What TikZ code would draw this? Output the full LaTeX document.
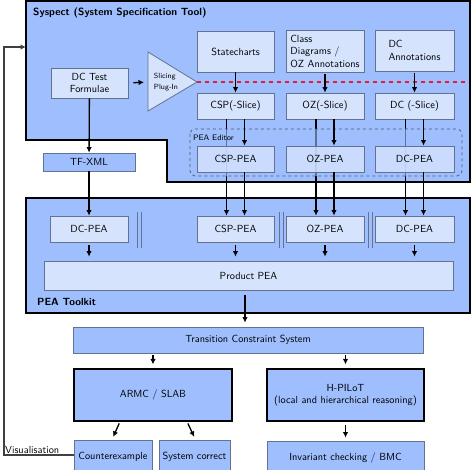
\documentclass[tikz,border=0pt]{standalone}
\usepackage{tikz}
\usetikzlibrary{arrows.meta}
\definecolor{outerblue}{RGB}{158,190,254}
\definecolor{innerblue}{RGB}{213,227,253}
\definecolor{edgeblue}{RGB}{100,114,145}
\definecolor{slicered}{RGB}{225,30,50}
\tikzset{
  inbox/.style={draw=edgeblue,fill=innerblue,line width=.8pt,align=center,inner sep=2pt},
  midbox/.style={draw=edgeblue,fill=outerblue,line width=.8pt,align=center,inner sep=2pt},
  bigbox/.style={draw=black,fill=outerblue,line width=1.2pt,align=center,inner sep=2pt},
  arr/.style={->,line width=1.3pt},
  title/.style={font=\sffamily\bfseries\fontsize{10.4}{12}\selectfont,anchor=west,inner sep=0pt}
}
\begin{document}
\begin{tikzpicture}[x=1pt,y=-1pt,>={Latex[length=5.5pt,width=5.5pt]},font=\sffamily\fontsize{10.3}{12.5}\selectfont]
\useasboundingbox (0,0) rectangle (474,469);
% the two tools
\draw[line width=1.3pt,fill=outerblue] (26,1) -- (470,1) -- (470,182) -- (167,182) -- (167,140) -- (26,140) -- cycle;
\node[title] (systitle) at (33,13) {Syspect (System Specification Tool)};
\draw[line width=1.3pt,fill=outerblue] (26,198) rectangle (470,313);
\node[title] (kittitle) at (37,302) {PEA Toolkit};
\coordinate (sysin) at (26,47);
% syspect
\node[inbox,minimum width=77pt,minimum height=30pt] (dctest) at (89.5,83) {DC Test\\Formulae};
\draw[draw=edgeblue,fill=innerblue,line width=.8pt] (148,52) -- (197,82) -- (148,111) -- cycle;
\node[font=\sffamily\fontsize{7.5}{11.5}\selectfont,align=left] (slicer) at (166,82) {Slicing\\Plug-In};
\coordinate (slicein) at (148,82);
\coordinate (sliceout) at (197,82);
\coordinate (sliceend) at (466,82);
\node[inbox,minimum width=77pt,minimum height=41pt] (statecharts) at (235.5,51.5) {Statecharts};
\node[inbox,minimum width=78pt,minimum height=42pt,align=left] (classdiag) at (325,51) {Class\\Diagrams /\\OZ Annotations};
\node[inbox,minimum width=79pt,minimum height=41pt,align=left] (dcann) at (414.5,50.5) {DC\\Annotations};
\node[inbox,minimum width=77pt,minimum height=26pt] (csp-slice) at (235.5,106) {CSP(-Slice)};
\node[inbox,minimum width=78pt,minimum height=26pt] (oz-slice) at (325,106) {OZ(-Slice)};
\node[inbox,minimum width=79pt,minimum height=26pt] (dc-slice) at (414.5,106) {DC (-Slice)};
\node[midbox,minimum width=92pt,minimum height=18pt] (tfxml) at (89,162) {TF-XML};
% pea toolkit
\node[inbox,minimum width=78pt,minimum height=26pt] (tf-kit) at (89,229) {DC-PEA};
\node[inbox,minimum width=77pt,minimum height=26pt] (csp-kit) at (235.5,229) {CSP-PEA};
\node[inbox,minimum width=78pt,minimum height=26pt] (oz-kit) at (325,229) {OZ-PEA};
\node[inbox,minimum width=79pt,minimum height=26pt] (dc-kit) at (414.5,229) {DC-PEA};
\foreach \x in {137,279,368}
  \draw[edgeblue,line width=.7pt] (\x,212) -- (\x,248) (\x+4,212) -- (\x+4,248);
\node[inbox,minimum width=409pt,minimum height=29pt] (product) at (248.5,275.5) {Product PEA};
% back ends
\node[midbox,minimum width=350pt,minimum height=26pt] (tcs) at (248,340) {Transition Constraint System};
\node[bigbox,minimum width=158pt,minimum height=52pt] (armc) at (153,395) {ARMC / SLAB};
\node[bigbox,minimum width=157pt,minimum height=52pt] (hpilot) at (345.5,395) {H-PILoT\\(local and hierarchical reasoning)};
\node[midbox,minimum width=78pt,minimum height=34pt] (cex) at (113,457) {Counterexample};
\node[midbox,minimum width=71pt,minimum height=34pt] (syscorr) at (194.5,457) {System correct};
\node[midbox,minimum width=157pt,minimum height=34pt] (invcheck) at (345.5,458) {Invariant checking / BMC};
% lines from the slices straight to the toolkit
\foreach \c in {csp,oz,dc}
  \draw[arr] ([xshift=-9pt]\c-slice.south) -- ([xshift=-9pt]\c-kit.north);
% pea editor
\draw[edgeblue!80!black,dashed,line width=.8pt,rounded corners=5pt,fill=outerblue,fill opacity=.6] (190,129) rectangle (462,176);
\node[font=\sffamily\fontsize{8}{10}\selectfont,anchor=west,inner sep=0pt] (editlabel) at (193,138) {PEA Editor};
\node[inbox,minimum width=77pt,minimum height=26pt,fill opacity=.8,text opacity=1] (csp-edit) at (235.5,159) {CSP-PEA};
\node[inbox,minimum width=78pt,minimum height=26pt,fill opacity=.8,text opacity=1] (oz-edit) at (325,159) {OZ-PEA};
\node[inbox,minimum width=79pt,minimum height=26pt,fill opacity=.8,text opacity=1] (dc-edit) at (414.5,159) {DC-PEA};
% arrows
\draw[arr,shorten <=5pt,shorten >=4pt] (dctest.east) -- (slicein);
\draw[slicered,line width=1.6pt,dash pattern=on 4pt off 4pt] (sliceout) -- (sliceend);
\draw[arr] (statecharts) -- (csp-slice);
\draw[arr,shorten <=2pt] (classdiag) -- (oz-slice);
\draw[arr,shorten <=2pt] (dcann) -- (dc-slice);
\foreach \c in {csp,oz,dc} {
  \draw[arr] ([xshift=9pt]\c-slice.south) -- ([xshift=9pt]\c-edit.north);
  \draw[arr] ([xshift=9pt]\c-edit.south) -- ([xshift=9pt]\c-kit.north);
}
\draw[arr] (dctest) -- (tfxml);
\draw[arr] (tfxml) -- (tf-kit);
\foreach \n in {tf-kit,csp-kit,oz-kit,dc-kit}
  \draw[arr,shorten <=3pt,shorten >=4pt] (\n) -- (\n |- product.north);
\draw[arr,shorten <=5pt,shorten >=4pt] ([xshift=-3.5pt]product.south) -- ([xshift=-3.5pt]product.south |- tcs.north);
\draw[arr,shorten <=2pt,shorten >=4pt] (armc.north |- tcs.south) -- (armc.north);
\draw[arr,shorten <=2pt,shorten >=4pt] (hpilot.north |- tcs.south) -- (hpilot.north);
\draw[arr,shorten <=2pt,shorten >=3pt] ([xshift=-33pt]armc.south) -- ([xshift=-1pt]cex.north);
\draw[arr,shorten <=2pt,shorten >=3pt] ([xshift=34pt]armc.south) -- ([xshift=1pt]syscorr.north);
\draw[arr,shorten <=3pt,shorten >=3pt] (hpilot) -- (invcheck);
% feedback
\coordinate (visback) at (4,455);
\draw[->,black!75,line width=1.3pt] ([yshift=2pt]cex.west) -- (visback) |- (sysin);
\node[anchor=south west,inner sep=1pt] (vislabel) at (visback) {Visualisation};
\end{tikzpicture}
\end{document}
